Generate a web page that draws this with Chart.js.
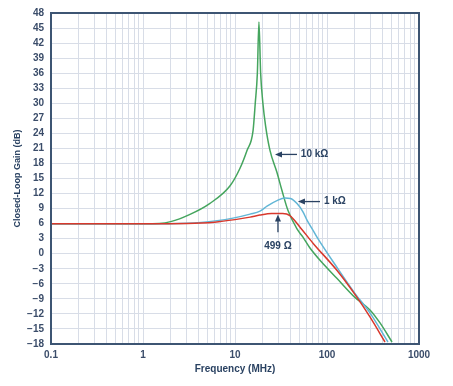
<!DOCTYPE html>
<html>
<head>
<meta charset="utf-8">
<title>Closed-Loop Gain vs Frequency</title>
<script src="https://cdn.jsdelivr.net/npm/chart.js@4"></script>
<style>
    html, body { margin: 0; padding: 0; background: #ffffff; }
    #gainChart { display: block; }
</style>
</head>
<body>
<canvas id="gainChart" width="453" height="386"></canvas>
<script>
// Curve data (frequency in MHz, gain in dB)
const freq10k = [0.1, 1, 1.5, 2, 3.2, 5.3, 8.8, 11.3, 13.5, 15.7, 16.6, 17.5, 18.2, 19, 20.1, 21.5, 24, 28.6, 32.4, 37.7, 47, 54.8, 65, 83.9, 128, 201, 293, 377, 509];
const gain10k = [6, 6, 6.05, 6.4, 7.8, 10, 13.5, 17, 20.6, 24.5, 30, 36, 46.2, 36, 30, 25.5, 20.6, 16.2, 12.6, 8.6, 5, 3.3, 1.2, -1.3, -4.9, -8.7, -11.2, -13.8, -17.6];

const freq1k = [0.1, 1, 3, 6.4, 9.5, 14.6, 18.7, 22.3, 28.6, 35, 40, 47.2, 54.6, 60.6, 70.8, 77.8, 128, 201, 293, 460];
const gain1k = [6, 6, 6.1, 6.6, 7.1, 7.9, 8.5, 9.5, 10.6, 11.1, 11.0, 10.0, 8.4, 6.7, 4.6, 3.3, -2.7, -7.9, -11.8, -17.6];

const freq499 = [0.1, 1, 3, 6, 10, 14.6, 18.6, 25, 33, 39.5, 50.9, 70.4, 128, 212, 293, 427];
const gain499 = [6, 6, 6.05, 6.3, 6.8, 7.3, 7.7, 8.0, 8.0, 7.6, 5.3, 2.1, -3.3, -8.7, -12.6, -17.6];

// Axis ticks
const decadeLabels = [0.1, 1, 10, 100, 1000];
const gainMin = -18;
const gainMax = 48;
const gainStep = 3;

document.addEventListener('DOMContentLoaded', () => {
    const navy = '#2a4262';
    const tickColor = '#3b4d6a';
    const gridColor = '#d8dde7';
    const fontFamily = '"Liberation Sans", Arial, sans-serif';

    function toPoints(xs, ys) {
        return xs.map((x, i) => ({ x: x, y: ys[i] }));
    }

    // 1..9 per decade so every minor gridline shows
    const freqTicks = [];
    for (let d = 0; d < decadeLabels.length - 1; d++) {
        for (let m = 1; m < 10; m++) {
            freqTicks.push(+(decadeLabels[d] * m).toPrecision(3));
        }
    }
    freqTicks.push(decadeLabels[decadeLabels.length - 1]);

    // Labels with arrows, given in data coordinates
    const notes = [
        { text: '10 k\u03A9', tip: [27.2, 19.8], tail: [47.2, 19.8], at: [52, 19.8], align: 'left' },
        { text: '1 k\u03A9', tip: [48.3, 10.4], tail: [83.9, 10.4], at: [92.6, 10.4], align: 'left' },
        { text: '499 \u03A9', tip: [29.3, 7.8], tail: [29.3, 4.3], at: [29.3, 1.5], align: 'center' }
    ];

    const framePlugin = {
        id: 'frame',
        afterDraw(chart) {
            const { ctx, chartArea: a, scales } = chart;
            ctx.save();
            ctx.strokeStyle = '#3d5573';
            ctx.lineWidth = 2;
            ctx.strokeRect(a.left, a.top, a.right - a.left, a.bottom - a.top);

            ctx.fillStyle = navy;
            ctx.strokeStyle = navy;
            ctx.lineWidth = 1.3;
            ctx.font = 'bold 10px ' + fontFamily;
            ctx.textBaseline = 'middle';
            notes.forEach(n => {
                const tx = scales.x.getPixelForValue(n.tip[0]);
                const ty = scales.y.getPixelForValue(n.tip[1]);
                const sx = scales.x.getPixelForValue(n.tail[0]);
                const sy = scales.y.getPixelForValue(n.tail[1]);
                const ang = Math.atan2(ty - sy, tx - sx);
                ctx.beginPath();
                ctx.moveTo(sx, sy);
                ctx.lineTo(tx - 5 * Math.cos(ang), ty - 5 * Math.sin(ang));
                ctx.stroke();
                ctx.beginPath();
                ctx.moveTo(tx, ty);
                ctx.lineTo(tx - 7 * Math.cos(ang) + 3 * Math.sin(ang), ty - 7 * Math.sin(ang) - 3 * Math.cos(ang));
                ctx.lineTo(tx - 7 * Math.cos(ang) - 3 * Math.sin(ang), ty - 7 * Math.sin(ang) + 3 * Math.cos(ang));
                ctx.closePath();
                ctx.fill();
                ctx.textAlign = n.align;
                ctx.fillText(n.text, scales.x.getPixelForValue(n.at[0]), scales.y.getPixelForValue(n.at[1]));
            });
            ctx.restore();
        }
    };

    const lineStyle = {
        borderWidth: 1.5,
        pointRadius: 0,
        fill: false,
        cubicInterpolationMode: 'monotone'
    };

    const ctx = document.getElementById('gainChart').getContext('2d');
    new Chart(ctx, {
        type: 'line',
        data: {
            datasets: [
                Object.assign({ label: '499 \u03A9', data: toPoints(freq499, gain499), borderColor: '#d8382c' }, lineStyle),
                Object.assign({ label: '1 k\u03A9', data: toPoints(freq1k, gain1k), borderColor: '#62b6d6' }, lineStyle),
                Object.assign({ label: '10 k\u03A9', data: toPoints(freq10k, gain10k), borderColor: '#45a55e' }, lineStyle)
            ]
        },
        options: {
            responsive: false,
            animation: false,
            layout: {
                padding: { top: 12, right: 34, bottom: 0, left: 0 }
            },
            plugins: {
                legend: { display: false },
                tooltip: { enabled: false }
            },
            scales: {
                x: {
                    type: 'logarithmic',
                    min: decadeLabels[0],
                    max: decadeLabels[decadeLabels.length - 1],
                    afterBuildTicks: scale => {
                        scale.ticks = freqTicks.map(v => ({ value: v }));
                    },
                    afterFit: scale => { scale.height = 42; },
                    grid: { color: gridColor, lineWidth: 1, drawTicks: false },
                    border: { display: false },
                    ticks: {
                        autoSkip: false,
                        maxRotation: 0,
                        padding: 5,
                        color: tickColor,
                        font: { family: fontFamily, size: 10, weight: 'bold' },
                        callback: value => decadeLabels.includes(value) ? String(value) : ''
                    },
                    title: {
                        display: true,
                        text: 'Frequency (MHz)',
                        color: navy,
                        font: { family: fontFamily, size: 10, weight: 'bold' },
                        padding: { top: 0, bottom: 11 }
                    }
                },
                y: {
                    min: gainMin,
                    max: gainMax,
                    afterFit: scale => { scale.width = 51; },
                    grid: { color: gridColor, lineWidth: 1, drawTicks: false },
                    border: { display: false },
                    ticks: {
                        stepSize: gainStep,
                        padding: 7,
                        color: tickColor,
                        font: { family: fontFamily, size: 10, weight: 'bold' },
                        callback: value => value < 0 ? '\u2212' + Math.abs(value) : String(value)
                    },
                    title: {
                        display: true,
                        text: 'Closed-Loop Gain (dB)',
                        color: navy,
                        font: { family: fontFamily, size: 9, weight: 'bold' },
                        padding: { top: 12, bottom: 0 }
                    }
                }
            }
        },
        plugins: [framePlugin]
    });
});
</script>
</body>
</html>
